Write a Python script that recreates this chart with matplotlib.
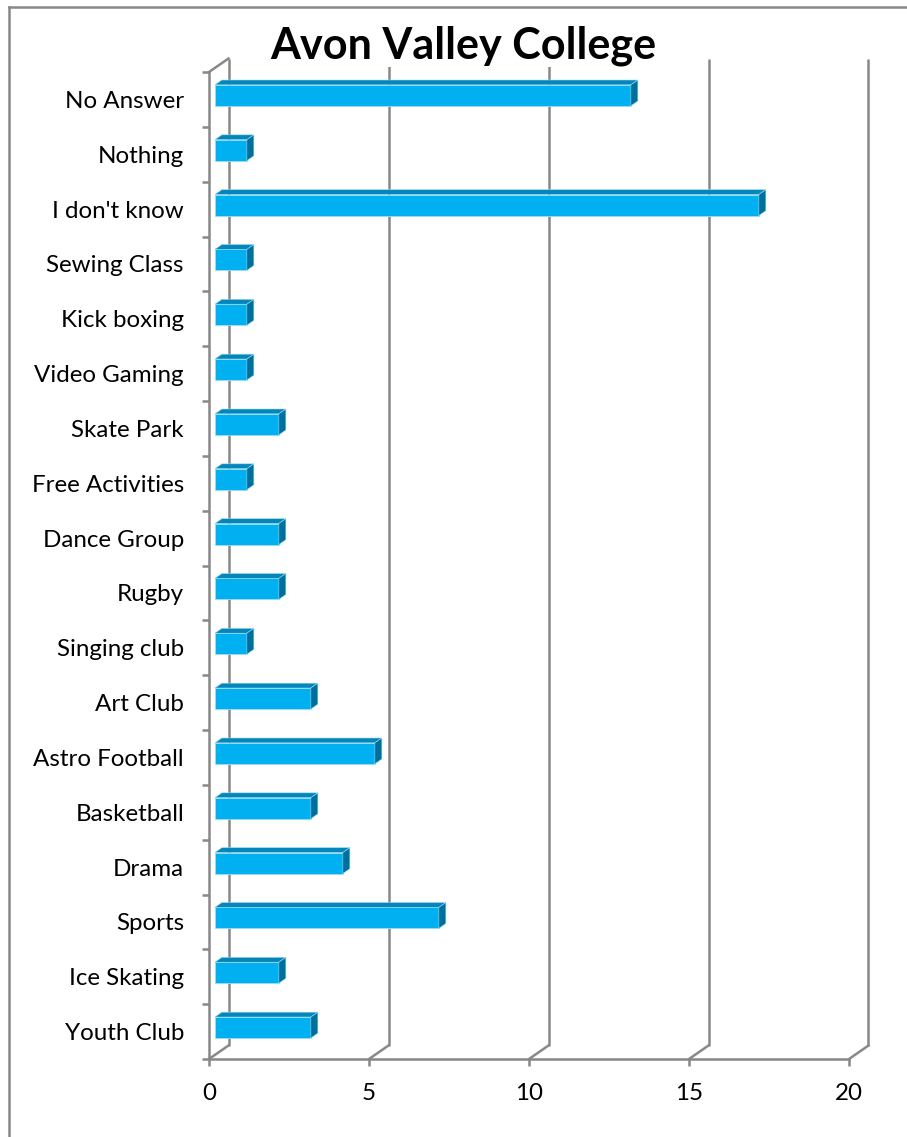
import matplotlib
matplotlib.use("Agg")
import matplotlib.pyplot as plt
from matplotlib.patches import Polygon
from matplotlib.lines import Line2D

# ---------------- data ----------------
categories = ["Youth Club", "Ice Skating", "Sports", "Drama", "Basketball",
              "Astro Football", "Art Club", "Singing club", "Rugby",
              "Dance Group", "Free Activities", "Skate Park", "Video Gaming",
              "Kick boxing", "Sewing Class", "I don't know", "Nothing",
              "No Answer"]
values = [3, 2, 7, 4, 3, 5, 3, 1, 2, 2, 1, 2, 1, 1, 1, 17, 1, 13]
x_ticks = [0, 5, 10, 15, 20]
title = "Avon Valley College"

# ---------------- style ----------------
W, H, DPI = 907, 1137, 100
GREY = "#888888"
FRONT = "#00B0F0"
TOP = "#0485BB"
SIDE = "#006F9C"
EDGE = "#9ADCF5"
FONT = "Lato"

fig = plt.figure(figsize=(W / DPI, H / DPI), dpi=DPI)
fig.patch.set_facecolor("white")
ax = fig.add_axes([209 / W, 1 - 1059 / H, 640 / W, 987 / H])
n = len(categories)
ax.set_xlim(x_ticks[0], x_ticks[-1])
ax.set_ylim(-0.5, n - 0.5)
ax.patch.set_alpha(0)

renderer = fig.canvas.get_renderer()

def fit_size(text, target_px, weight="normal"):
    t = fig.text(0, 0, text, fontsize=10, family=FONT, fontweight=weight)
    w = t.get_window_extent(renderer).width
    t.remove()
    return 10 * target_px / w

lab_size = fit_size("No Answer", 119)
title_size = fit_size(title, 387, "bold")

# pixel scale of the data axes
bb = ax.get_window_extent(renderer)
ppx = bb.width / (x_ticks[-1] - x_ticks[0])
ppy = bb.height / n
DX, DY = 19.5 / ppx, 13.5 / ppy          # wall depth (data units)
y0, y1 = -0.5, n - 0.5

lw = 1.8
# back wall gridlines
for t in x_ticks:
    ax.plot([t + DX, t + DX], [y0 + DY, y1 + DY], color=GREY, lw=lw,
            clip_on=False, zorder=1, solid_capstyle="butt")
    ax.plot([t, t + DX], [y0, y0 + DY], color=GREY, lw=lw,
            clip_on=False, zorder=1)
# left wall top edge
ax.plot([x_ticks[0], x_ticks[0] + DX], [y1, y1 + DY], color=GREY, lw=lw,
        clip_on=False, zorder=1)

# spines / ticks
for s in ("top", "right"):
    ax.spines[s].set_visible(False)
for s in ("left", "bottom"):
    ax.spines[s].set_color(GREY)
    ax.spines[s].set_linewidth(lw)
    ax.spines[s].set_zorder(2)

ax.set_xticks(x_ticks, labels=[str(t) for t in x_ticks])
ax.tick_params(axis="x", length=5, width=lw, color=GREY, pad=12,
               labelsize=lab_size, labelcolor="black")
ax.set_yticks(range(n), labels=categories)
ax.set_yticks([i - 0.5 for i in range(n + 1)], minor=True)
ax.tick_params(axis="y", which="major", length=0, pad=18,
               labelsize=lab_size, labelcolor="black")
ax.tick_params(axis="y", which="minor", length=5, width=lw, color=GREY)
for lab in ax.get_xticklabels() + ax.get_yticklabels():
    lab.set_family(FONT)

# ---------------- 3D bars ----------------
f_front = 0.30
f_depth = 0.36
bar_h = 0.383
bdx, bdy = f_depth * DX, f_depth * DY
ys = [i + f_front * DY for i in range(n)]
x0 = f_front * DX
ax.barh(ys, values, left=x0, height=bar_h, color=FRONT, edgecolor=EDGE,
        linewidth=0.6, zorder=3, clip_on=False)
for yc, v in zip(ys, values):
    yt, yb = yc + bar_h / 2, yc - bar_h / 2
    x1 = x0 + v
    ax.add_patch(Polygon([(x0, yt), (x1, yt), (x1 + bdx, yt + bdy),
                          (x0 + bdx, yt + bdy)], closed=True,
                         facecolor=TOP, edgecolor=EDGE, lw=0.4, zorder=3,
                         clip_on=False))
    ax.add_patch(Polygon([(x1, yb), (x1, yt), (x1 + bdx, yt + bdy),
                          (x1 + bdx, yb + bdy)], closed=True,
                         facecolor=SIDE, edgecolor=EDGE, lw=0.4, zorder=3,
                         clip_on=False))

# ---------------- title & frame ----------------
fig.text(463.5 / W, 1 - 59 / H, title, ha="center", va="baseline",
         fontsize=title_size, fontweight="bold", family=FONT, color="black",
         bbox=dict(facecolor="white", edgecolor="none", pad=0), zorder=5)

fig.add_artist(Line2D([9 / W, 1], [1 - 7 / H, 1 - 7 / H], color=GREY,
                      lw=1.8, transform=fig.transFigure))
fig.add_artist(Line2D([9 / W, 9 / W], [0, 1 - 7 / H], color=GREY,
                      lw=1.8, transform=fig.transFigure))

fig.savefig("out.png", dpi=DPI, facecolor="white")
